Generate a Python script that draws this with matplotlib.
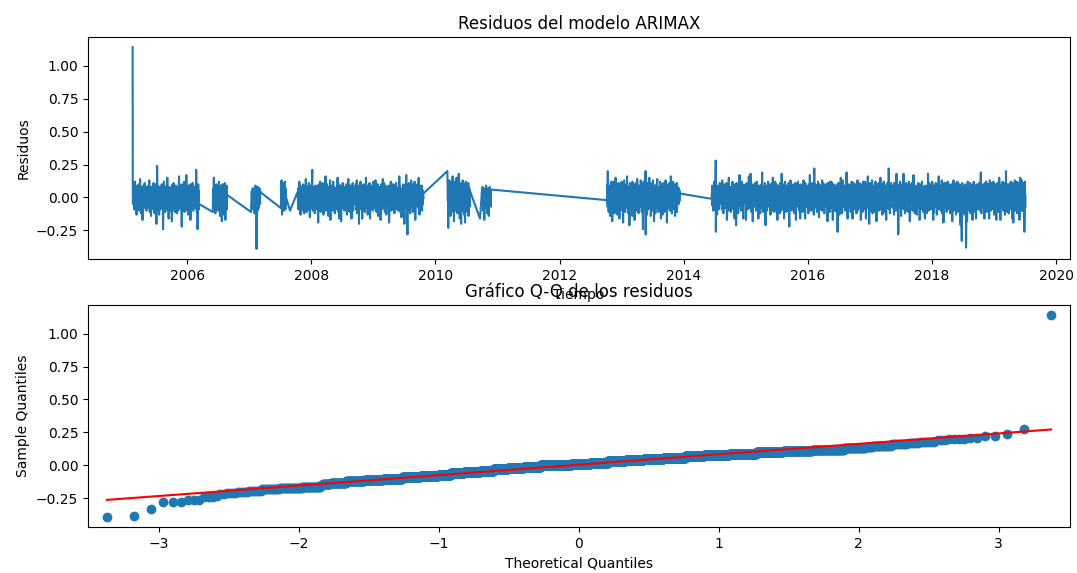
"""
ARIMAX residual diagnostics: residual series over time plus a normal Q-Q plot.
Residuals are stored in hundredths, one list per contiguous block of trading days.
"""
from statistics import NormalDist

import matplotlib
matplotlib.use("Agg")
import matplotlib.pyplot as plt
import numpy as np
import pandas as pd

# ── residuals (x 0.01) ────────────────────────────────────────────────────────

res_2005 = [
    114,
    3, -5, 8, 1, -2, 6, -9, 0, 4, 12, -3, 2, -6, 9, -1, 5, -13, 2, -4, -8,
    -1, 6, -4, 2, 10, -7, 3, 0, -10, 5, -2, 14, 1, -5, 4, -12, 7, -3, 8, -9,
    2, -17, 5, 0, -3, 9, 1, -6, 4, -1, 11, -8, 3, -2, 6, -4, 8, 0, -10, 3,
    -3, 4, 1, -8, 7, -2, 9, 0, -5, 13, 2, -1, -11, 6, 3, -6, 8, -14, 1, 5,
    5, -2, 0, 8, -6, 3, -9, 1, 11, -4, 2, 6, -12, -1, 10, -3, 4, -8, 0, -20,
    1, 7, -3, 24, -5, 0, 9, -10, 4, -2, 6, -13, 2, 8, -1, -7, 3, -9, 5, 0,
    -4, 2, 10, -1, 5, -8, 0, 3, -24, 6, -2, 12, -6, 1, 8, -3, 4, -11, 7, -1,
    3, -6, 1, 9, -2, 15, -9, 4, 0, -5, 2, -16, 6, -1, 8, -3, 5, -10, 1, 7,
    0, 4, -7, 2, -18, 6, 1, 10, -3, 5, -9, 3, -1, 11, -5, 2, 8, -11, 4, -2,
    -2, 9, 3, -6, 0, -12, 5, 1, 8, -4, 2, -10, 7, -1, 16, -3, 4, -8, 0, 6,
    4, -1, 6, -9, 2, 10, -22, 3, -5, 0, 8, -2, 5, -8, 1, 12, -4, 7, -11, 2,
    -5, 3, 1, 8, -2, 17, -7, 0, 4, -10, 6, -1, 9, -13, 2, -3, 5, -9, 1, 6,
    2, -3, 10, -17, 4, 0, -6, 7, 1, -9, 5, -2, 11, 3, -10, 6, -1, 8, -4, 0,
    6, -2, 3, -8, 1, 9, -5, 21, 0, -11, 4, -1, 7, -24, 2, 10, -3, 5, -9, -5,
]

res_2006 = [
    -11, 3, 7, -2, 15, -5, 1, 9, -8, 4, 0, -12, 6, 2, -3, 10, -9, 5, -1, 3,
    8, -4, 1, -10, 5, 0, 12, -6, 2, -1, -14, 7, 3, -8, 9, -2, 4, -18, 6, 0,
    -3, 10, 2, -7, 1, 5, -13, 8, -2, 4, 11, -1, -17, 3, 6, -5, 0, 9, -9, 2,
]

res_2007a = [
    -11, -3, 5, -8, 1, 0, 7, -5, 3, -1, -9, 4, -2, 6, -12, 2, 8, -4, 9, -6,
    3, -7, -39, 5, 0, 4, -10, 1, 8, -3, 2, 6, -8, 0, -2, 7, -5, 1, 5, 4,
]

res_2007b = [-8, 3, 13, -5, 6, -13, 9, 1, -4, 11, -7, 2, 8, -10, 5, -2, 12, -6, 4, -9, 7, 0]

res_2007c = [-10]

res_2007_2009 = [
    4, -2, 7, 1, -9, 5, 0, 12, -3, 2, -6, 9, -13, 3, -1, 6, -4, 8, -10, 1,
    2, -5, 0, 10, -8, 3, 6, -1, -12, 4, 1, -3, 9, -7, 5, 14, -2, 0, -11, 3,
    -1, 8, 3, -6, 1, -9, 5, 11, -2, 0, 4, -15, 7, -3, 2, 9, -8, 6, -1, 0,
    5, 21, -3, 1, -10, 6, 0, -4, 8, 2, -7, 3, -12, 4, -1, 9, -2, -9, 7, 1,
    0, -6, 4, 9, -2, 1, -19, 5, 3, -8, 10, -1, 6, -4, 2, 12, -11, 0, 7, -3,
    -2, 4, -9, 6, 1, 11, -5, 0, 3, -13, 8, 2, -1, 9, -7, 5, -3, 16, -10, 1,
    3, -1, 7, -4, 10, 0, -8, 2, 5, -14, 1, 6, -2, 8, -6, 4, 13, -11, -17, 2,
    1, -7, 5, 0, 9, -3, 2, -10, 6, -1, 12, -5, 3, 8, -9, 0, -12, 4, -2, 7,
    -4, 6, 2, -9, 0, 8, -1, 3, 15, -6, 4, -11, 1, -2, 10, -16, 5, 0, -3, 9,
    2, -3, 7, -18, 4, 1, -6, 9, 0, 5, 11, -8, 3, -1, 6, -2, -10, 8, -4, 1,
    -1, 5, 0, -8, 10, 3, -4, -13, 6, 2, -9, 8, -2, 14, 1, -5, 4, 9, -11, 0,
    6, -3, 9, 1, -6, 4, -16, 2, 0, -9, 5, 11, -1, 3, -10, 8, -4, 7, 2, -2,
    0, 8, -5, 3, -1, 10, -9, 6, 2, 13, -12, 4, -3, 1, -8, 9, 5, -2, -20, 7,
    3, -9, 5, 0, -4, 12, -2, 8, -6, 1, 4, -16, 9, 2, -5, 6, -1, 3, 10, -10,
    4, -1, 8, -11, 2, 0, -6, 15, -3, 5, -8, 1, 9, -2, 6, -13, 3, 7, -4, 0,
    -6, 3, 11, -2, 5, -16, 1, 9, -4, 0, 6, -9, -1, 4, 2, 8, -3, -10, 7, 12,
    2, -5, 0, 9, -8, 4, -1, 13, -3, 1, 6, -11, 3, -2, 8, -6, 10, 0, -14, 5,
    -2, 7, -10, 3, 1, 8, -5, 0, 4, -17, 2, 10, -1, 6, -9, 3, 0, -4, 14, -1,
    5, -3, 4, -8, 11, 0, -11, 2, -1, 9, 3, -5, 6, -13, 1, 7, -2, 8, -6, 2,
    -4, 9, 1, -3, 6, -19, 4, 8, 0, 2, -7, 12, -1, -9, 5, -10, 10, 3, -2, 6,
    1, -8, 10, -2, 4, 7, -12, 0, -5, 9, 3, -1, 5, -9, 11, -3, 2, 6, -7, 0,
    6, -1, 3, -10, 8, 0, -4, 16, -6, 2, 9, -11, 1, 5, -2, 7, -15, 4, 0, -3,
    -9, 5, 0, 8, -3, 10, -7, 1, 4, -20, 6, 9, -2, 3, -5, 0, 17, -8, 2, -1,
    4, -28, 7, -1, 9, -5, 2, 11, -10, 0, 5, -3, 8, -12, 1, 6, -1, 13, -6, 3,
    -2, 8, -7, 4, 0, -11, 10, 3, -4, 6, -1, 12, -9, 1, 5, -17, 7, 2, -5, 9,
    1, -6, 4, 10, -3, 0, 7, -8, 2, 15, -1, 5, -13, 3, 8, -4, 0, 9, -9, 0,
    5, -2, 9, -10, 3, 6, -5, 1, -1, 3,
]

res_2010a = [
    20, -3, 7, -23, 4, 10, -6, 1, 13, -9, 5, 0, 8, -14, 2, 11, -4, 0, 6, -11,
    3, 16, -7, 1, 9, -2, 5, -18, 8, 1, -5, 12, -1, 4, -10, 7, 0, -6, 15, -3,
    6, -12, 2, 10, -1, 5, -8, 18, -4, 0, 8, -16, 3, 11, -6, 0, 5, -20, 9, 2,
    -5, 8, 1, -10, 13, -2, 4, -7, 0, 10, -13, 6, -1, 3, -19, 7, 12, -4, 2, -8,
    5, -1, 9, -11, 1, 7, -5, 11, -14, 3, 8, -2, 0, -7, 6, 5,
]

res_2010b = [-16]

res_2010c = [
    4, -5, 8, -2, 4, -10, 1, 6, -7, 2, -17, 5, -3, 7, 0, -8, 1, 9, -4, 2,
    -2, 6, -12, 3, 0, -6, 7, -1, 4, -14, 1, 5, -4, 8, -2, 0, 3, -7, 6, 6,
]

res_2012_2013 = [
    -2, 5, 10, -7, 20, -3, 8, -11, 3, 0, -5, 1, 9, -14, 4, -1, 7, -9, 2, 12,
    -4, 6, -18, 1, 10, -3, 5, 0, -8, 12, -2, 4, -12, 7, 1, -5, 15, -2, 3, -10,
    8, -1, 5, -13, 2, 9, -6, 1, 11, -4, 0, 7, -16, 3, 10, -2, 6, -9, 0, 4,
    -7, 12, 1, -3, 8, -10, 5, 0, -19, 6, 2, -1, 13, -5, 0, 9, -11, 4, 7, -1,
    3, -6, 10, 0, -4, 16, -8, 2, 6, -12, 1, 8, -3, 5, -1, -21, 11, 4, -5, 0,
    9, -2, 4, -9, 7, 1, -14, 12, -1, 5, -6, 0, 10, -3, 2, 8, -17, 3, -8, 6,
    0, 11, -5, 2, 7, -10, 4, 14, -2, 1, -8, 6, 3, -12, 9, -1, 5, 0, -4, 8,
    1, -7, 13, -3, 5, 0, -11, 8, -5, 10, 2, -24, 6, -1, 4, 12, -6, 1, 7, -9,
    5, -4, 20, -28, 3, 9, -7, 0, 6, -13, 11, -2, 4, 0, -9, 8, -5, 2, 15, -1,
    -8, 3, 7, -2, 11, -14, 1, 5, -6, 9, -1, 4, -10, 2, 13, -3, 0, 8, -18, 6,
    2, 9, -5, 0, -12, 7, 3, -1, 10, -8, 5, 14, -4, 1, -7, 6, 0, -11, 8, -2,
    -3, 6, 0, -9, 12, -1, 4, -16, 8, 2, -5, 10, -1, 3, -13, 7, 1, -6, 11, 0,
    7, -11, 3, 8, -4, 1, 13, -7, 0, 5, -2, 9, -19, 4, 0, -5, 10, -1, 6, -8,
    -5, 2, 11, -1, 6, -10, 4, 0, -3, 16, -7, 1, 8, -12, 3, -2, 5, -9, 12, 0,
    4, -8, 1, 7, -2, 10, -14, 5, 0, 3, 9, -6, 2, -4, 11, -11, 6, 0, 8, -3,
    2, -5, 7, -1, 4, -3, 5, 3,
]

res_2014_2019 = [
    -1, 4, -6, 9, 2, -3, 7, -10, 5, 0, -5, 12, 1, -8, 3, -2, 10, 28, -26, 3,
    -4, 6, 0, -13, 5, 9, -1, 3, -7, 8, -9, 2, 0, 6, -3, 11, -2, 4, 1, -5,
    8, -2, 5, -9, 1, 13, -4, 6, 0, 2, -12, 4, 10, -5, -1, 3, -8, 7, -2, 1,
    -6, 2, 11, -3, 6, -17, 0, 5, -8, 9, 1, -2, 15, -10, 4, -1, 6, -4, 8, 0,
    5, -11, 3, 8, -1, 0, -7, 12, -4, 2, 6, -9, 1, 10, -3, 4, -16, 2, 7, -2,
    2, 9, -5, -21, 4, 11, 0, 6, -8, 3, -1, -12, 8, 1, -4, 7, -2, 17, -6, 0,
    -3, 6, 1, -10, 8, 0, 12, -5, 4, -1, -8, 10, 2, -16, 5, -2, 9, -4, 3, 7,
    0, -4, 10, -1, 5, -17, 7, 2, -6, 11, 0, 4, -9, 8, -1, -3, 16, -7, 1, 5,
    -8, 3, 6, -2, 18, -5, 0, 9, -11, 4, -1, 7, 1, -18, 10, 2, -4, 6, 0, 8,
    4, -7, 0, 11, -3, 5, -10, 1, 8, -5, 12, -1, 3, -8, 6, 0, -16, 9, -2, 2,
    -1, 9, -6, 3, 0, -12, 7, 5, -3, 10, -8, 2, 19, -4, 1, 6, -11, 1, 8, -5,
    7, -2, 4, -9, 11, 0, -21, 6, 2, -5, 9, -1, 3, -10, 8, 1, -6, 12, -3, 0,
    -4, 5, 10, 0, 2, -8, 6, -13, 9, 1, -2, 7, -7, 11, -1, -5, 4, 15, -10, 3,
    2, -6, 8, 0, -11, 5, -1, 12, -4, 1, 7, -9, 3, 10, -2, 6, -17, 1, 4, 0,
    6, -3, 1, 9, -7, 4, 0, -12, 11, 2, -5, 8, -1, -10, 5, 18, -4, 0, -8, 7,
    -2, 10, -5, 3, 7, -16, 1, 5, -1, 12, -8, 0, 6, -3, 9, -11, 2, 8, -6, 4,
    0, -9, 6, -3, 11, 2, -22, 8, 0, 4, -6, 13, 1, -4, 7, 1, -10, 5, -2, 9,
    -5, 3, 8, -8, 0, 10, -2, 5, -12, 7, 1, 0, 11, -6, 4, -17, 9, -1, 3, -1,
    8, -4, 2, 12, -7, 0, 5, -10, 3, 9, -1, 6, -16, 0, 10, -3, 4, -8, 1, 5,
    0, 7, -11, 4, 1, -5, 13, -2, 8, -9, 0, 5, 2, -16, 11, -4, 6, 0, -7, 3,
    4, -1, 9, -6, 3, 8, -12, 0, 6, -3, 10, -8, 1, 17, -5, 0, 7, -10, 2, -2,
    -7, 5, 0, -4, 11, -9, 2, 7, -1, 4, -13, 22, -2, 6, 0, -8, 10, 3, -5, 1,
    9, -3, 6, -11, 1, 5, 0, 12, -6, -1, 8, -15, 3, 10, -2, 4, -9, 7, 0, -4,
    2, 8, -5, 0, -10, 13, -1, 5, 3, -8, 11, -3, -1, 6, -12, 1, 9, -6, 4, 0,
    -3, 6, 10, -7, 4, -1, 8, -18, 2, 11, -5, 0, 7, -9, 5, 1, -4, 12, -11, 3,
    5, 0, 3, -8, 12, 1, -6, 9, -2, 4, -17, 7, 0, -4, 10, -1, 6, -10, 2, 8,
    -6, 9, 1, -3, 7, -11, 4, 0, 10, -5, -26, 5, 2, -8, 11, -1, 6, -13, 3, 0,
    7, -2, 5, 15, -9, 0, 8, -4, 2, -12, 6, 1, 13, -7, 1, -3, 9, -5, 4, 0,
    -4, 3, -10, 8, 1, 6, -2, 19, -7, 0, 5, -16, 9, -1, 3, -6, 10, 2, -8, 4,
    1, -7, 9, 0, 5, -11, 2, 7, -4, 12, -2, 4, -16, 8, 0, 6, -5, 11, 1, -9,
    6, -1, 3, 10, -8, 2, -5, 9, 0, -12, 7, 1, -3, 13, -10, 5, 0, -6, 8, -2,
    -8, 11, 0, -4, 7, -1, 5, -17, 10, 3, -7, 0, 9, -2, 6, -11, 1, 12, -5, 4,
    3, -5, 8, 0, -9, 12, -3, 4, 6, -16, 1, 10, 0, 5, -7, 2, 16, -8, 0, -2,
    9, 0, -20, 5, 2, -6, 11, -3, 7, 1, -10, 4, 8, -5, 0, 13, -12, 3, 6, -1,
    -2, 7, 4, -11, 1, 9, -4, 0, -8, 12, 3, -1, 6, -18, 10, 0, -5, 8, 2, -7,
    5, -3, 11, 0, 6, -10, 2, 8, -6, 0, 15, -4, 1, -9, 7, 3, -2, 10, -13, 1,
    -1, 8, -7, 3, 12, -5, 0, 6, -11, 4, 0, 9, -3, 2, -17, 7, 5, -8, 11, 0,
    4, -6, 1, 10, -2, 22, -9, 5, 0, 7, -12, 2, 8, -4, 0, 11, -7, 3, -1, 6,
    -5, 2, 9, -8, 5, 0, -13, 11, -1, 3, 7, -4, 0, 10, -10, 6, -2, 18, -6, 1,
    8, 0, 4, -11, 2, -28, 7, 0, 10, -5, 3, -8, 12, 1, -3, 6, -14, 5, 0, -2,
    -3, 10, 1, -7, 6, 0, 18, -9, 4, 0, -5, 8, 2, -12, 9, -1, 5, -10, 11, 3,
    1, -8, 7, 4, -2, 9, -11, 0, 5, -6, 12, -3, 8, -18, 2, 0, 10, -4, 6, -1,
    6, -4, 11, -1, 3, -10, 0, 8, -7, 17, 2, -5, 0, 9, -12, 5, -2, 7, -9, 4,
    0, 5, -13, 9, 1, -3, 7, 2, -8, 11, -1, 4, -6, 0, 10, -17, 6, 0, 3, -5,
    10, -2, 3, -9, 6, 12, -5, 1, 0, 8, -11, 4, 0, 7, -4, 2, -16, 9, 5, -7,
    -4, 8, 0, 5, -12, 2, 9, -1, 6, -7, 18, 0, -10, 4, -3, 11, 1, -6, 7, 0,
    3, -9, 6, -2, 10, 0, -5, 12, -8, 1, 5, -17, 8, 0, 4, -11, 9, 2, -4, 6,
    -7, 4, 11, -3, 0, 8, -13, 5, 2, -6, 10, -1, 7, -9, 3, 16, -5, 0, -2, 9,
    2, -5, 8, -10, 5, 1, 0, 13, -7, 4, -12, 9, 0, -3, 6, -19, 11, 3, -1, 5,
    -1, 7, -6, 2, 11, -8, 4, 0, -11, 9, -3, 6, 12, -5, 1, -9, 8, 0, -4, 10,
    5, -2, 9, -12, 3, 7, -4, 0, 10, -7, 2, -18, 6, 0, 8, -1, 13, -10, 4, -3,
    -5, 11, 1, -8, 6, 0, 9, -13, 3, 8, -2, 5, -9, 12, 0, -6, 4, 1, -11, 7,
    3, -4, 10, 0, -7, 5, -21, 9, -1, 6, -10, -33, 4, 11, -3, 2, -12, 8, 0, -6,
    7, -9, 2, 5, -13, 10, -2, 4, -8, 0, -38, 6, -4, 9, -18, 3, 12, -5, 1, 0,
    -3, 8, -10, 4, 1, -6, 11, 0, -12, 7, 2, -4, 9, -8, 5, 0, -17, 10, -1, 3,
    6, -1, 12, -7, 3, -11, 0, 8, -5, 4, 9, -16, 1, 6, -2, 10, -9, 0, 5, -4,
    -2, 9, -8, 2, 11, 0, 5, -10, 7, -4, 0, 19, -6, 3, -12, 8, 1, -3, 10, -7,
    4, -6, 0, 9, -3, 7, -16, 2, 11, -1, 5, -9, 8, 0, -5, 12, -11, 3, 6, 0,
    -8, 3, 10, -2, 6, 0, -16, 9, 1, -5, 13, -7, 4, 0, -10, 7, -1, 11, -4, 2,
    5, 0, 8, -9, 2, 12, -5, 1, -13, 6, -2, 10, 0, -7, 4, 9, -17, 3, 7, -3,
    -4, 11, 2, -6, 8, -11, 0, 5, -2, 15, -8, 3, 9, 0, -17, 6, 1, -5, 10, 0,
    2, -7, 6, 12, -3, 4, -10, 8, 0, -5, 11, -1, 5, -13, 7, 0, -8, 20, -2, 4,
    9, -3, -11, 5, 1, 10, -7, 3, 0, 8, -12, 6, 2, -4, 11, -9, 0, 7, -6, 12,
    -1, 5, 8, -16, 3, 11, -5, 0, -19, 7, 2, -8, 10, -2, 5, 13, -10, 1, -4, 9,
    4, -9, 12, 0, 6, -12, 2, 8, -5, 0, 11, -7, 3, 9, -17, 5, -1, 15, -8, 1,
    -5, 8, 0, -10, 13, -2, 6, -7, 11, 0, 4, -11, 9, -3, 2, -26, 12, 5, -8, 1,
]

# first trading day of each block
block_starts = [
    "2005-02-14", "2006-06-01", "2007-01-12", "2007-07-06", "2007-08-29",
    "2007-10-12", "2010-03-12", "2010-09-20", "2010-10-01", "2012-10-05",
    "2014-06-13",
]
blocks = [
    res_2005, res_2006, res_2007a, res_2007b, res_2007c, res_2007_2009,
    res_2010a, res_2010b, res_2010c, res_2012_2013, res_2014_2019,
]


def build_residuals():
    parts = []
    for start, vals in zip(block_starts, blocks):
        idx = pd.bdate_range(start, periods=len(vals))
        parts.append(pd.Series(np.asarray(vals, dtype=float) / 100.0, index=idx))
    return pd.concat(parts)


def qqplot(ax, resid):
    """Normal Q-Q plot with a standardized reference line (statsmodels style)."""
    y = np.sort(resid.to_numpy())
    n = len(y)
    probs = np.arange(1, n + 1) / (n + 1)
    nd = NormalDist()
    x = np.array([nd.inv_cdf(p) for p in probs])
    ax.plot(x, y, marker="o", linestyle="none",
            markerfacecolor="C0", markeredgecolor="C0")
    ax.plot(x, x * y.std() + y.mean(), "r-")
    ax.set_xmargin(0.02)
    ax.set_xlabel("Theoretical Quantiles")
    ax.set_ylabel("Sample Quantiles")


resid = build_residuals()

fig, (ax1, ax2) = plt.subplots(2, 1, figsize=(10.77, 5.73), dpi=100)
fig.subplots_adjust(left=0.0817, right=0.9935, top=0.9354, bottom=0.0803,
                    hspace=0.207)

ax1.plot(resid.index, resid.values)
ax1.set_title("Residuos del modelo ARIMAX")
ax1.set_xlabel("Tiempo")
ax1.set_ylabel("Residuos")

qqplot(ax2, resid)
ax2.set_title("Gráfico Q-Q de los residuos")

fig.savefig("out.png", dpi=100)
